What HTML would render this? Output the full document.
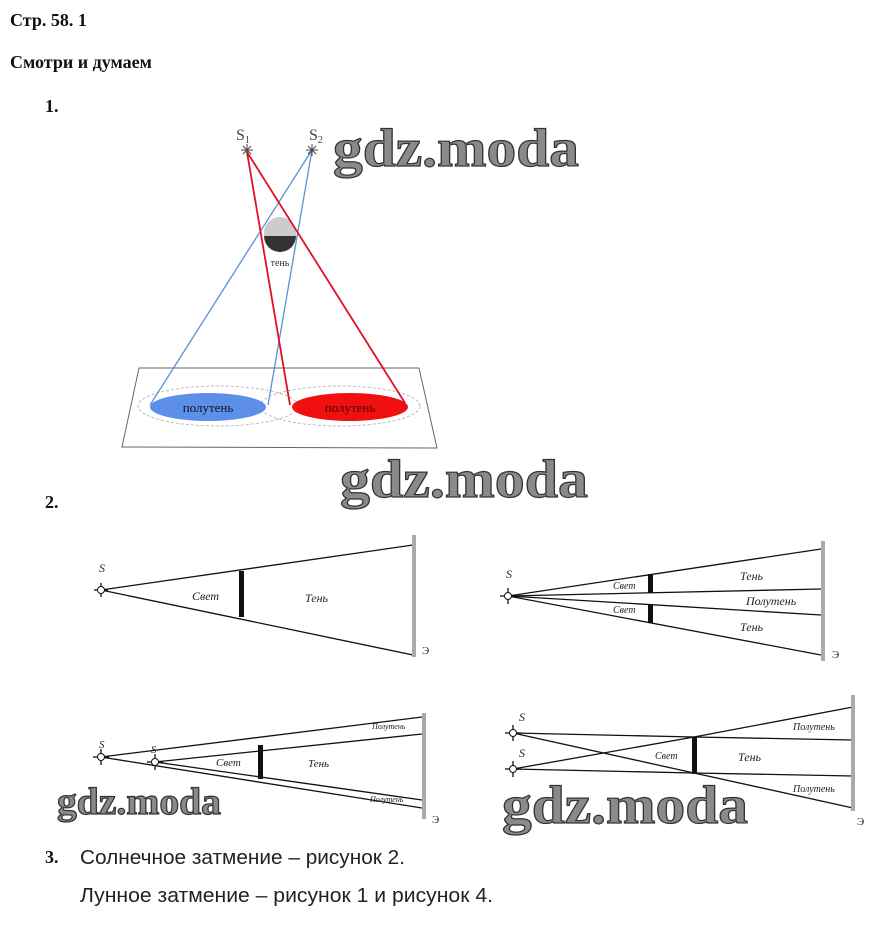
<!DOCTYPE html>
<html><head><meta charset="utf-8"><style>
body{margin:0;background:#fff;width:885px;height:952px;overflow:hidden}
svg{position:absolute;left:0;top:0}
</style></head><body>
<svg width="885" height="952" xmlns="http://www.w3.org/2000/svg">
<g font-family="Liberation Serif, serif" font-weight="bold" font-size="18" fill="#111">
<text x="10" y="26">Стр. 58. 1</text>
<text x="10" y="68">Смотри и думаем</text>
<text x="45" y="112">1.</text>
<text x="45" y="508">2.</text>
<text x="45" y="863">3.</text>
</g>
<g font-family="Liberation Sans, sans-serif" font-size="20" fill="#222">
<text x="80" y="864" textLength="325" lengthAdjust="spacingAndGlyphs">Солнечное затмение – рисунок 2.</text>
<text x="80" y="902" textLength="413" lengthAdjust="spacingAndGlyphs">Лунное затмение – рисунок 1 и рисунок 4.</text>
</g>
<!-- watermarks -->
<g font-family="Liberation Serif, serif" font-weight="bold" fill="#8a8a8a" stroke="#333" stroke-width="1.2">
<text x="333" y="166" font-size="54" textLength="246" lengthAdjust="spacingAndGlyphs">gdz.moda</text>
<text x="340" y="497" font-size="54" textLength="248" lengthAdjust="spacingAndGlyphs">gdz.moda</text>
<text x="57" y="814" font-size="38" textLength="164" lengthAdjust="spacingAndGlyphs">gdz.moda</text>
<text x="502" y="823" font-size="54" textLength="246" lengthAdjust="spacingAndGlyphs">gdz.moda</text>
</g>
<!-- Fig 1 -->
<polygon points="139,368 419,368 437,448 122,447" fill="none" stroke="#666" stroke-width="1"/>
<ellipse cx="218" cy="406" rx="80" ry="20" fill="none" stroke="#bbb" stroke-dasharray="3,2"/>
<ellipse cx="340" cy="406" rx="80" ry="20" fill="none" stroke="#bbb" stroke-dasharray="3,2"/>
<ellipse cx="208" cy="407" rx="58" ry="14" fill="#5b8fe8"/>
<ellipse cx="350" cy="407" rx="58" ry="14" fill="#f01010"/>
<text x="208" y="412" font-family="Liberation Serif, serif" font-size="13" fill="#112" text-anchor="middle">полутень</text>
<text x="350" y="412" font-family="Liberation Serif, serif" font-size="13" fill="#500" text-anchor="middle">полутень</text>
<circle cx="280" cy="233" r="16" fill="#ccc"/>
<path d="M264,236 A16,16 0 0 0 296,236 Z" fill="#333"/>
<text x="280" y="266" font-family="Liberation Serif, serif" font-size="10" fill="#333" text-anchor="middle">тень</text>
<g stroke="#5b8fd8" stroke-width="1.3"><line x1="312" y1="150" x2="150" y2="405"/><line x1="312" y1="150" x2="268" y2="405"/></g>
<g stroke="#e0102a" stroke-width="1.8"><line x1="247" y1="152" x2="290" y2="405"/><line x1="247" y1="152" x2="405" y2="403"/></g>
<g font-family="Liberation Serif, serif" font-size="16" fill="#444"><text x="236" y="140">S<tspan font-size="10" dy="3">1</tspan></text><text x="309" y="140">S<tspan font-size="10" dy="3">2</tspan></text></g>
<g stroke="#444" stroke-width="1"><path d="M241,150h12M247,144v12M243,146l8,8M251,146l-8,8"/><path d="M306,150h12M312,144v12M308,146l8,8M316,146l-8,8"/></g>
<!-- Fig 2a -->
<g stroke="#111" stroke-width="1.3" fill="none">
<line x1="101" y1="590" x2="413" y2="545"/><line x1="101" y1="590" x2="413" y2="655"/>
<line x1="101" y1="583" x2="101" y2="597"/><line x1="94" y1="590" x2="108" y2="590"/>
</g>
<circle cx="101" cy="590" r="3.5" fill="#fff" stroke="#111"/>
<rect x="239" y="571" width="5" height="46" fill="#111"/>
<rect x="412" y="535" width="4" height="122" fill="#aaa"/>
<g font-family="Liberation Serif, serif" font-style="italic" font-size="12" fill="#222">
<text x="99" y="572">S</text><text x="192" y="600">Свет</text><text x="305" y="602">Тень</text><text x="422" y="654" font-style="normal" font-size="11">Э</text>
</g>
<!-- Fig 2b -->
<g stroke="#111" stroke-width="1.3" fill="none">
<line x1="508" y1="596" x2="821" y2="549"/><line x1="508" y1="596" x2="821" y2="589"/><line x1="508" y1="596" x2="821" y2="615"/><line x1="508" y1="596" x2="821" y2="655"/>
<line x1="508" y1="588" x2="508" y2="604"/><line x1="500" y1="596" x2="516" y2="596"/>
</g>
<circle cx="508" cy="596" r="3.5" fill="#fff" stroke="#111"/>
<rect x="648" y="574" width="5" height="19" fill="#111"/><rect x="648" y="604" width="5" height="19" fill="#111"/>
<rect x="821" y="541" width="4" height="120" fill="#aaa"/>
<g font-family="Liberation Serif, serif" font-style="italic" font-size="12" fill="#222">
<text x="506" y="578">S</text><text x="613" y="589" font-size="10">Свет</text><text x="613" y="613" font-size="10">Свет</text>
<text x="740" y="580">Тень</text><text x="746" y="605">Полутень</text><text x="740" y="631">Тень</text><text x="832" y="658" font-style="normal" font-size="11">Э</text>
</g>
<!-- Fig 2c -->
<g stroke="#111" stroke-width="1.3" fill="none">
<line x1="101" y1="757" x2="422" y2="717"/><line x1="155" y1="762" x2="422" y2="734"/><line x1="155" y1="762" x2="422" y2="800"/><line x1="101" y1="757" x2="422" y2="808"/>
<line x1="101" y1="749" x2="101" y2="765"/><line x1="93" y1="757" x2="109" y2="757"/>
<line x1="155" y1="754" x2="155" y2="770"/><line x1="147" y1="762" x2="163" y2="762"/>
</g>
<circle cx="101" cy="757" r="3.5" fill="#fff" stroke="#111"/><circle cx="155" cy="762" r="3.5" fill="#fff" stroke="#111"/>
<rect x="258" y="745" width="5" height="34" fill="#111"/>
<rect x="422" y="713" width="4" height="106" fill="#aaa"/>
<g font-family="Liberation Serif, serif" font-style="italic" font-size="11" fill="#222">
<text x="99" y="748">S</text><text x="151" y="753">S</text><text x="216" y="766">Свет</text><text x="308" y="767">Тень</text>
<text x="372" y="729" font-size="8">Полутень</text><text x="370" y="802" font-size="8">Полутень</text><text x="432" y="823" font-style="normal">Э</text>
</g>
<!-- Fig 2d -->
<g stroke="#111" stroke-width="1.3" fill="none">
<line x1="513" y1="733" x2="694" y2="737"/><line x1="694" y1="737" x2="853" y2="740"/>
<line x1="513" y1="733" x2="694" y2="773"/><line x1="694" y1="773" x2="853" y2="808"/>
<line x1="513" y1="769" x2="694" y2="737"/><line x1="694" y1="737" x2="853" y2="707"/>
<line x1="513" y1="769" x2="694" y2="773"/><line x1="694" y1="773" x2="853" y2="776"/>
<line x1="513" y1="725" x2="513" y2="741"/><line x1="505" y1="733" x2="521" y2="733"/>
<line x1="513" y1="761" x2="513" y2="777"/><line x1="505" y1="769" x2="521" y2="769"/>
</g>
<circle cx="513" cy="733" r="3.5" fill="#fff" stroke="#111"/><circle cx="513" cy="769" r="3.5" fill="#fff" stroke="#111"/>
<rect x="692" y="737" width="5" height="37" fill="#111"/>
<rect x="851" y="695" width="4" height="116" fill="#aaa"/>
<g font-family="Liberation Serif, serif" font-style="italic" font-size="12" fill="#222">
<text x="519" y="721">S</text><text x="519" y="757">S</text><text x="655" y="759" font-size="10">Свет</text><text x="738" y="761">Тень</text>
<text x="793" y="730" font-size="10">Полутень</text><text x="793" y="792" font-size="10">Полутень</text><text x="857" y="825" font-style="normal" font-size="11">Э</text>
</g>
</svg>
</body></html>
